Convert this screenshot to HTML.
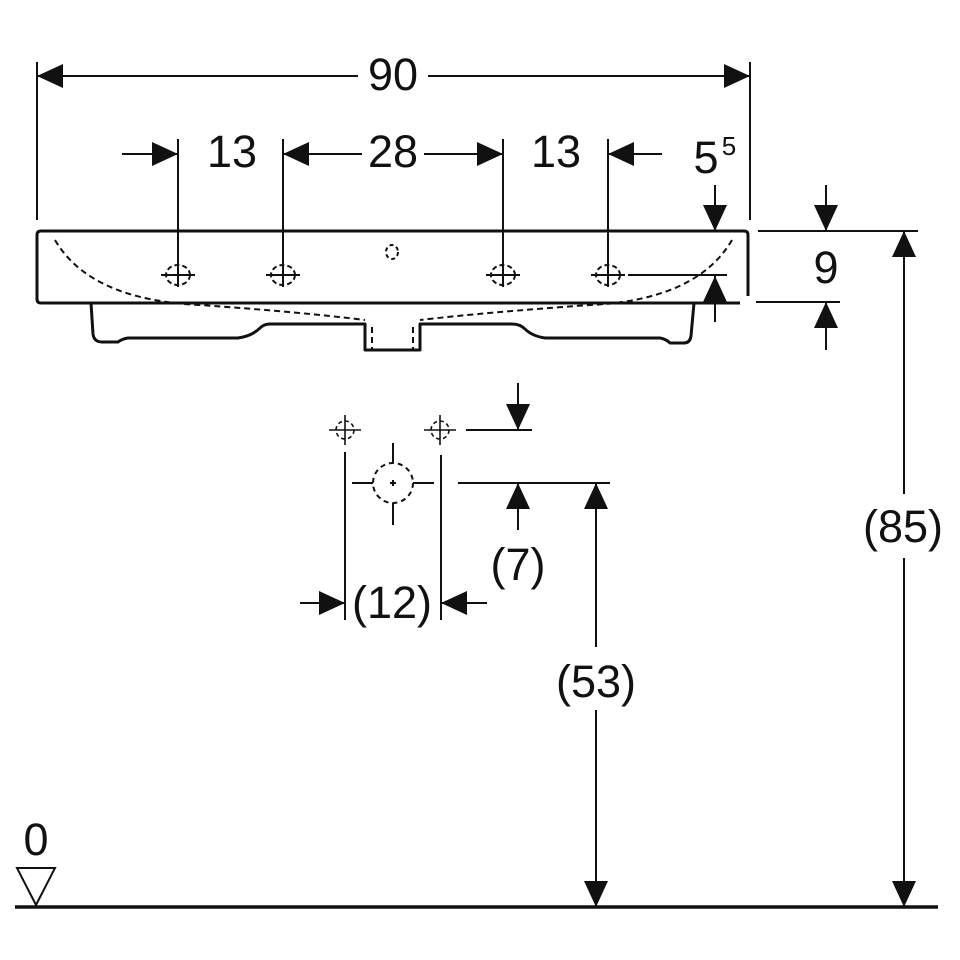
<!DOCTYPE html>
<html><head><meta charset="utf-8"><style>html,body{margin:0;padding:0;background:#fff}svg{display:block}text{font-family:"Liberation Sans",sans-serif;fill:#111}</style></head><body>
<svg width="960" height="960" viewBox="0 0 960 960" xmlns="http://www.w3.org/2000/svg">
<defs>
<g id="cr"><ellipse cx="0" cy="0" rx="12" ry="10" fill="none" stroke="#111" stroke-width="2" stroke-dasharray="5,3"/><line x1="-17" y1="0" x2="17" y2="0" stroke="#111" stroke-width="2"/><line x1="0" y1="-12" x2="0" y2="12" stroke="#111" stroke-width="2"/></g>
<g id="cs"><ellipse cx="0" cy="0" rx="9" ry="9" fill="none" stroke="#111" stroke-width="1.6" stroke-dasharray="4,3"/><line x1="-16" y1="0" x2="16" y2="0" stroke="#111" stroke-width="1.6"/><line x1="0" y1="-15" x2="0" y2="15" stroke="#111" stroke-width="1.6"/></g>
</defs>
<g stroke="#111" stroke-width="2" fill="none">
<!-- top dimension -->
<line x1="37" y1="62" x2="37" y2="220"/><line x1="750" y1="62" x2="750" y2="220"/>
<line x1="37" y1="76" x2="358" y2="76"/><line x1="428" y1="76" x2="750" y2="76"/>
<!-- second row -->
<line x1="178" y1="139" x2="178" y2="285"/><line x1="283" y1="139" x2="283" y2="285"/>
<line x1="503" y1="139" x2="503" y2="285"/><line x1="608" y1="139" x2="608" y2="285"/>
<line x1="122" y1="154" x2="178" y2="154"/>
<line x1="283" y1="154" x2="362" y2="154"/><line x1="424" y1="154" x2="503" y2="154"/>
<line x1="608" y1="154" x2="662" y2="154"/>
<!-- 5^5 -->
<line x1="715" y1="185" x2="715" y2="231"/><line x1="715" y1="276" x2="715" y2="322"/>
<line x1="628" y1="275" x2="727" y2="275"/>
<!-- 9 -->
<line x1="758" y1="231" x2="918" y2="231"/><line x1="756" y1="302" x2="840" y2="302"/>
<line x1="826" y1="185" x2="826" y2="231"/><line x1="826" y1="302" x2="826" y2="350"/>
<!-- 85 -->
<line x1="904" y1="231" x2="904" y2="494"/><line x1="904" y1="558" x2="904" y2="907"/>
<!-- 53 -->
<line x1="458" y1="483" x2="610" y2="483"/>
<line x1="596" y1="483" x2="596" y2="647"/><line x1="596" y1="710" x2="596" y2="907"/>
<!-- 7 -->
<line x1="466" y1="430" x2="532" y2="430"/>
<line x1="518" y1="383" x2="518" y2="430"/><line x1="518" y1="483" x2="518" y2="530"/>
<!-- 12 -->
<line x1="345" y1="452" x2="345" y2="620"/><line x1="441" y1="455" x2="441" y2="620"/>
<line x1="300" y1="603" x2="345" y2="603"/><line x1="441" y1="603" x2="487" y2="603"/>
<!-- drain circle -->
<circle cx="393" cy="483" r="20" stroke-dasharray="5,4"/>
<line x1="352" y1="483" x2="373" y2="483"/><line x1="413" y1="483" x2="434" y2="483"/>
<line x1="393" y1="443" x2="393" y2="463"/><line x1="393" y1="503" x2="393" y2="525"/>
<line x1="390" y1="483" x2="396" y2="483"/><line x1="393" y1="480" x2="393" y2="486"/>
</g>
<!-- basin -->
<g stroke="#111" stroke-width="3" fill="none" stroke-linejoin="round">
<path d="M748 296 L748 235 Q748 231 744 231 L41 231 Q37 231 37 235 L37 299 Q37 303 41 303 L740 303"/>
<path d="M91 303 L93 334 Q94 342 102 342 L118 342 Q122 339 128 338 L238 338 Q252 336 260 328 Q264 324 270 324 L365 324 L365 350 L420 350 L420 324 L512 324 Q520 324 525 329 Q532 336 545 338 L660 338 Q666 339 670 343 L684 343 Q690 343 691 336 L694 303"/>
</g>
<g stroke="#111" stroke-width="2" fill="none" stroke-dasharray="6,4">
<path d="M55 240 Q90 300 200 305 Q300 312 365 320"/>
<path d="M732 240 Q697 300 590 305 Q490 312 420 320"/>
<line x1="372" y1="327" x2="372" y2="349"/><line x1="413" y1="327" x2="413" y2="349"/>
<ellipse cx="392" cy="252" rx="6" ry="7" stroke-dasharray="4,3"/>
</g>
<use href="#cr" x="178" y="275"/><use href="#cr" x="283" y="275"/><use href="#cr" x="503" y="275"/><use href="#cr" x="608" y="275"/>
<use href="#cs" x="345" y="430"/><use href="#cs" x="440" y="430"/>
<!-- arrowheads -->
<g fill="#111">
<polygon points="37,76 63,64 63,88"/><polygon points="750,76 724,64 724,88"/>
<polygon points="178,154 152,142 152,166"/><polygon points="283,154 309,142 309,166"/>
<polygon points="503,154 477,142 477,166"/><polygon points="608,154 634,142 634,166"/>
<polygon points="715,231 703,205 727,205"/><polygon points="715,276 703,302 727,302"/>
<polygon points="826,231 814,205 838,205"/><polygon points="826,302 814,328 838,328"/>
<polygon points="904,231 892,257 916,257"/><polygon points="904,907 892,881 916,881"/>
<polygon points="596,483 584,509 608,509"/><polygon points="596,907 584,881 608,881"/>
<polygon points="518,430 506,404 530,404"/><polygon points="518,483 506,509 530,509"/>
<polygon points="345,603 319,591 319,615"/><polygon points="441,603 467,591 467,615"/>
</g>
<!-- ground -->
<line x1="15" y1="907" x2="938" y2="907" stroke="#111" stroke-width="3.5"/>
<polygon points="17,868 55,868 36,905" fill="none" stroke="#111" stroke-width="2"/>
<g font-size="45" text-anchor="middle">
<text x="393" y="90">90</text>
<text x="232" y="167">13</text>
<text x="393" y="167">28</text>
<text x="556" y="167">13</text>
<text x="706" y="173">5</text>
<text x="729" y="155" font-size="26">5</text>
<text x="826" y="283">9</text>
<text x="903" y="542">(85)</text>
<text x="596" y="697">(53)</text>
<text x="518" y="580">(7)</text>
<text x="392" y="618">(12)</text>
<text x="36" y="855">0</text>
</g>
</svg>
</body></html>
